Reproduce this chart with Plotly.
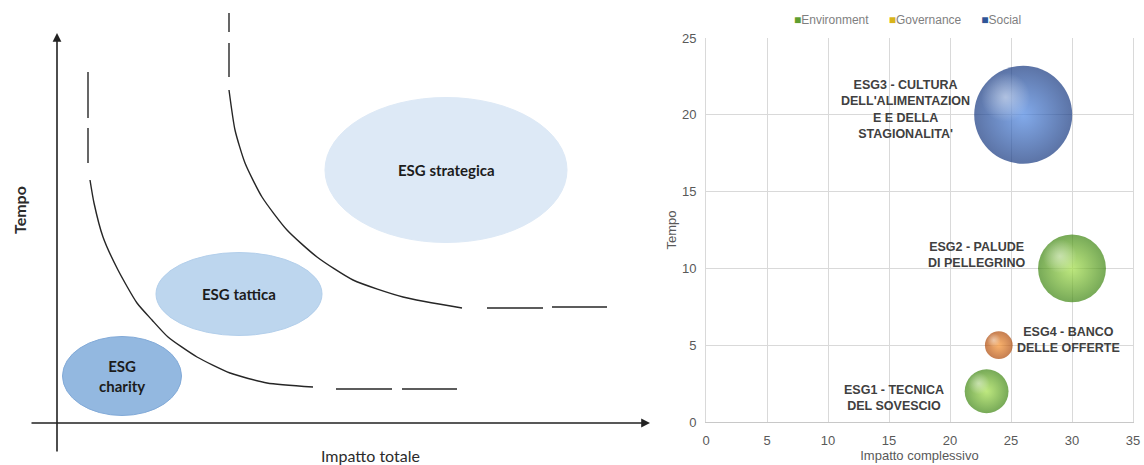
import math
import plotly.graph_objects as go

W, H = 1144, 465

# ---------------- bubble chart data ----------------
progetti = [
    "ESG1 - TECNICA<br>DEL SOVESCIO",
    "ESG2 - PALUDE<br>DI PELLEGRINO",
    "ESG3 - CULTURA<br>DELL'ALIMENTAZION<br>E E DELLA<br>STAGIONALITA'",
    "ESG4 - BANCO<br>DELLE OFFERTE",
]
impatto = [23, 30, 26, 24]
tempo = [2, 10, 20, 5]
dimensione = [5, 12, 25, 2]
ambito = ["Environment", "Environment", "Social", "Governance"]

legenda = ["Environment", "Governance", "Social"]
x_ticks = [0, 5, 10, 15, 20, 25, 30, 35]
y_ticks = [0, 5, 10, 15, 20, 25]

# ---------------- schematic (left) data ----------------
# curve points in the schematic's own units (origin at the axes crossing)
curva1_x = [31, 31, None, 31, 31, None, 33, 37, 46, 61, 80, 95, 111, 140, 173, 210, 256,
            None, 279, 335, None, 345, 400]
curva1_y = [351, 305, None, 295, 260, None, 243, 220, 186, 153, 120, 103, 86, 66, 50, 40, 36,
            None, 34, 34, None, 34, 34]
curva2_x = [172, 172, None, 172, 172, None, 172, 178, 188, 205, 230, 260, 296, 346, 405,
            None, 430, 486, None, 495, 550]
curva2_y = [410, 391, None, 380, 346, None, 333, 293, 260, 226, 193, 166, 143, 126, 115,
            None, 115, 115, None, 116, 116]

aree = ["ESG strategica", "ESG tattica", "ESG<br>charity"]
aree_cx = [389, 182, 65]
aree_cy = [253, 129, 47]
aree_w = [242, 166, 119]
aree_h = [145, 83, 79]
aree_col = ["#dde9f6", "#bdd6ee", "#93b8e0"]
aree_bordo = ["#dde9f6", "#b3cfeb", "#82aad8"]

# ---------------- styling ----------------
# (edge colour, centre colour) of each sphere
sfera = {
    "Environment": ("#3d8510", "#a2de48"),
    "Social": ("#163880", "#4d86e2"),
    "Governance": ("#ad4808", "#f8922e"),
}
legenda_col = {"Environment": "#5f9e2f", "Governance": "#d8b41c", "Social": "#2f5597"}
MAX_D = 98.0
sizeref = 2.0 * max(dimensione) / MAX_D ** 2

X_RANGE = [0, 35]
Y_RANGE = [0, 25]
xdom = [706 / W, 1133 / W]
ydom = [(H - 422) / H, (H - 38) / H]
px_per_x = (xdom[1] - xdom[0]) * W / (X_RANGE[1] - X_RANGE[0])
px_per_y = (ydom[1] - ydom[0]) * H / (Y_RANGE[1] - Y_RANGE[0])

fig = go.Figure()

# ---- left schematic: ellipses ----
shapes = []
for cx, cy, w, h, c, b in zip(aree_cx, aree_cy, aree_w, aree_h, aree_col, aree_bordo):
    shapes.append(dict(type="circle", xref="x2", yref="y2",
                       x0=cx - w / 2, x1=cx + w / 2, y0=cy - h / 2, y1=cy + h / 2,
                       fillcolor=c, line=dict(color=b, width=1), layer="below"))

for cx_, cy_ in [(curva1_x, curva1_y), (curva2_x, curva2_y)]:
    fig.add_trace(go.Scatter(x=cx_, y=cy_, mode="lines", xaxis="x2", yaxis="y2",
                             line=dict(color="#262626", width=1.4, shape="spline", smoothing=0.6),
                             connectgaps=False, showlegend=False, hoverinfo="skip"))

annotations = []
for name, cx, cy in zip(aree, aree_cx, aree_cy):
    annotations.append(dict(x=cx, y=cy, xref="x2", yref="y2", text=f"<b>{name}</b>",
                            showarrow=False, font=dict(family="Lato", size=15, color="#1c1c1c")))

# axes arrows of the schematic
annotations.append(dict(x=593, y=0, ax=-27, ay=0, xref="x2", yref="y2", axref="x2", ayref="y2",
                        text="", showarrow=True, arrowhead=2, arrowsize=1.1, arrowwidth=1.6,
                        arrowcolor="#222222"))
annotations.append(dict(x=0, y=390, ax=0, ay=-30, xref="x2", yref="y2", axref="x2", ayref="y2",
                        text="", showarrow=True, arrowhead=2, arrowsize=1.1, arrowwidth=1.6,
                        arrowcolor="#222222"))
annotations.append(dict(x=-38, y=213, xref="x2", yref="y2", text="<b>Tempo</b>", textangle=-90,
                        showarrow=False, font=dict(family="Lato", size=16, color="#2b2b2b")))
annotations.append(dict(x=313, y=-32, xref="x2", yref="y2", text="Impatto totale",
                        showarrow=False, font=dict(family="Lato", size=16, color="#2b2b2b")))

# ---- right bubble chart ----
diam = [math.sqrt(2.0 * s / sizeref) for s in dimensione]
for xi, yi, s, d, amb in zip(impatto, tempo, dimensione, diam, ambito):
    c_edge, c_mid = sfera[amb]
    fig.add_trace(go.Scatter(
        x=[xi], y=[yi], mode="markers", showlegend=False, hoverinfo="skip",
        marker=dict(size=[s], sizemode="area", sizeref=sizeref, color=c_edge,
                    gradient=dict(type="radial", color=c_mid),
                    line=dict(width=0))))
    # specular highlight, shifted up-left by a fraction of the bubble diameter
    fig.add_trace(go.Scatter(
        x=[xi - 0.18 * d / px_per_x], y=[yi + 0.18 * d / px_per_y], mode="markers",
        showlegend=False, hoverinfo="skip",
        marker=dict(size=d * 0.5, color="rgba(255,255,255,0)",
                    gradient=dict(type="radial", color="rgba(255,255,255,0.45)"),
                    line=dict(width=0))))

# data labels
label_side = ["left", "left", "left", "right"]
label_gap = [19, 10, 2, 2]
label_dy = [-7, 13, 5, 5]
for xi, yi, txt, d, side, gap, dy in zip(impatto, tempo, progetti, diam, label_side, label_gap, label_dy):
    r = d / 2
    annotations.append(dict(
        x=xi, y=yi, xref="x", yref="y", text=f"<b>{txt}</b>", showarrow=False,
        xanchor="right" if side == "left" else "left", align="center",
        xshift=-(r + gap) if side == "left" else (r + gap), yshift=dy,
        font=dict(family="Liberation Sans Narrow, Arial Narrow, Liberation Sans", size=12.5,
                  color="#404040")))

leg_txt = "      ".join(
    f"<span style='color:{legenda_col[n]}'>■</span>{n}" for n in legenda)
annotations.append(dict(x=907 / W, y=1 - 20 / H, xref="paper", yref="paper", text=leg_txt,
                        xanchor="center", yanchor="middle", showarrow=False,
                        font=dict(family="Liberation Sans", size=12, color="#7f7f7f")))

axis_font = dict(family="Liberation Sans Narrow, Arial Narrow, Liberation Sans", size=13, color="#595959")
fig.update_layout(
    width=W, height=H, margin=dict(l=0, r=0, t=0, b=0, autoexpand=False),
    paper_bgcolor="white", plot_bgcolor="white",
    shapes=shapes, annotations=annotations,
    xaxis=dict(domain=xdom, range=X_RANGE, tickvals=x_ticks, showgrid=True, gridcolor="#d9d9d9",
               gridwidth=1, zeroline=False, showline=True, linecolor="#c8c8c8", mirror=False,
               tickfont=axis_font, ticks="", ticklabelstandoff=6, automargin=False,
               title=dict(text="Impatto complessivo", font=axis_font, standoff=4)),
    yaxis=dict(domain=ydom, range=Y_RANGE, tickvals=y_ticks, showgrid=True, gridcolor="#d9d9d9",
               zeroline=False, showline=True, linecolor="#d9d9d9", mirror=True,
               tickfont=axis_font, ticks="", ticklabelstandoff=6, automargin=False,
               title=dict(text="Tempo", font=axis_font, standoff=2)),
    xaxis2=dict(domain=[0, 665 / W], range=[-57, 608], visible=False, fixedrange=True,
                anchor="y2", automargin=False),
    yaxis2=dict(domain=[0, 1], range=[-42, 423], visible=False, fixedrange=True,
                anchor="x2", automargin=False),
)

fig.write_html("out.html")
